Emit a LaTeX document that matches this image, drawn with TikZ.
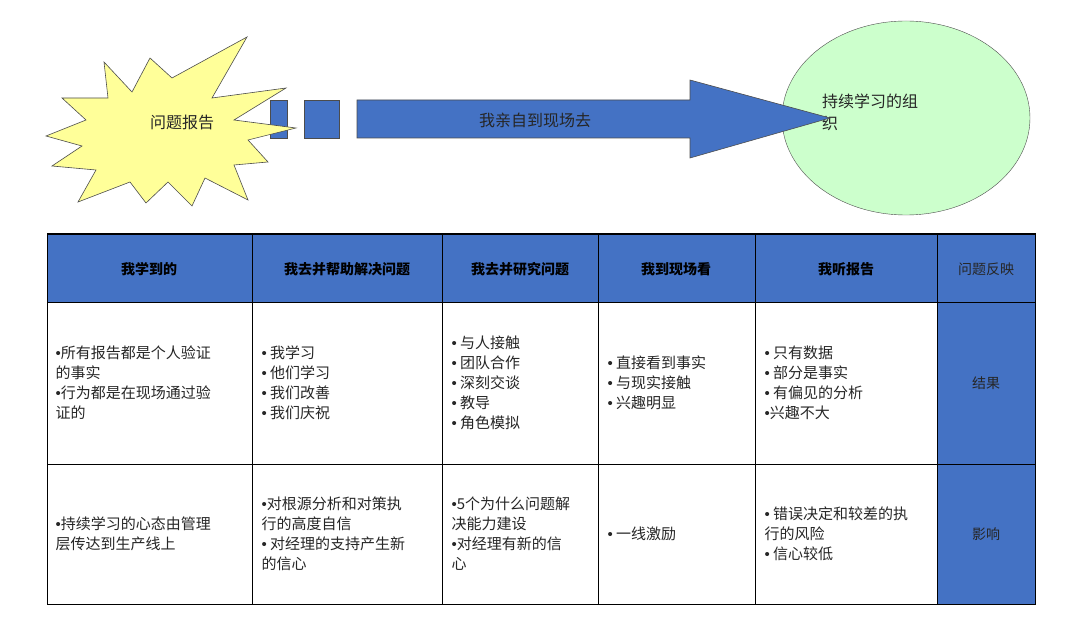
\documentclass[tikz,border=0pt]{standalone}
\usepackage{fontspec}
\usetikzlibrary{shapes.geometric}
\setmainfont{Noto Sans CJK SC}
\newfontfamily\dvs{Liberation Sans}
\newcommand\bul{{\dvs •}}
\begin{document}
\begin{tikzpicture}[x=1pt,y=-1pt,
  hdr/.style={draw=black,fill=blueA},
  cell/.style={draw=black,fill=white},
  txt/.style={font=\fontsize{15}{20}\selectfont,align=left,anchor=west,text=black!85},
  htxt/.style={font=\fontsize{14}{17}\selectfont\bfseries,text=black},
  blk/.style={draw=black!70,fill=blueA,line width=0.6pt}]
\definecolor{blueA}{HTML}{4472C4}
\definecolor{greenA}{HTML}{CCFFCC}
\definecolor{yelA}{HTML}{FFFF99}
\useasboundingbox (0,0) rectangle (1080,620);
% ellipse
\node[draw=black!70,fill=greenA,ellipse,minimum width=248pt,minimum height=194pt,inner sep=0] (org) at (906,118) {};
\node[font=\fontsize{16}{22}\selectfont,align=left,text=black!85] (orgt) at (870,112) {持续学习的组\\织};
% arrow
\draw[blk] (270,100) rectangle (287,138);
\draw[blk] (304,100) rectangle (339,138);
\draw[blk] (357,100) -- (690,100) -- (690,80) -- (830,118) -- (690,158) -- (690,138) -- (357,138) -- cycle;
\node[font=\fontsize{16}{18}\selectfont,text=black!85] (go) at (535,120) {我亲自到现场去};
% starburst
\draw[draw=black!70,fill=yelA,line width=0.6pt]
 (104,62) -- (132,92) -- (150,58) -- (172,78) -- (247,37) -- (212,98) -- (286,88) -- (234,120)
 -- (296,128) -- (248,140) -- (268,162) -- (234,165) -- (248,200) -- (205,178) -- (192,206)
 -- (168,182) -- (146,203) -- (130,182) -- (78,202) -- (96,170) -- (52,166) -- (82,146)
 -- (46,136) -- (86,120) -- (62,98) -- (108,98) -- cycle;
\node[font=\fontsize{16}{18}\selectfont,text=black!85] (rep) at (182,122) {问题报告};
% table
\foreach \a/\b in {47/252,252/442,442/598,598/755,755/937}{
  \draw[hdr] (\a,234) rectangle (\b,302);
  \draw[cell] (\a,302) rectangle (\b,464);
  \draw[cell] (\a,464) rectangle (\b,604);
}
\draw[hdr] (937,234) rectangle (1035,302);
\draw[hdr] (937,302) rectangle (1035,464);
\draw[hdr] (937,464) rectangle (1035,604);
\draw[black,line width=1pt] (47,234) rectangle (1035,604);
\node[htxt] (h1) at (149,269) {我学到的};
\node[htxt] (h2) at (347,269) {我去并帮助解决问题};
\node[htxt] (h3) at (520,269) {我去并研究问题};
\node[htxt] (h4) at (676,269) {我到现场看};
\node[htxt] (h5) at (846,269) {我听报告};
\node[font=\fontsize{14}{17}\selectfont,text=black!85] (h6) at (986,269) {问题反映};
\node[font=\fontsize{14}{17}\selectfont,text=black!85] (r1) at (986,383) {结果};
\node[font=\fontsize{14}{17}\selectfont,text=black!85] (r2) at (986,534) {影响};
\node[txt] (c11) at (52,383) {\bul{}所有报告都是个人验证\\的事实\\\bul{}行为都是在现场通过验\\证的};
\node[txt] (c12) at (258,383) {\bul\ 我学习\\\bul\ 他们学习\\\bul\ 我们改善\\\bul\ 我们庆祝};
\node[txt] (c13) at (448,383) {\bul\ 与人接触\\\bul\ 团队合作\\\bul\ 深刻交谈\\\bul\ 教导\\\bul\ 角色模拟};
\node[txt] (c14) at (604,383) {\bul\ 直接看到事实\\\bul\ 与现实接触\\\bul\ 兴趣明显};
\node[txt] (c15) at (761,383) {\bul\ 只有数据\\\bul\ 部分是事实\\\bul\ 有偏见的分析\\\bul{}兴趣不大};
\node[txt] (c21) at (52,534) {\bul{}持续学习的心态由管理\\层传达到生产线上};
\node[txt] (c22) at (258,534) {\bul{}对根源分析和对策执\\行的高度自信\\\bul\ 对经理的支持产生新\\的信心};
\node[txt] (c23) at (448,534) {\bul{}5个为什么问题解\\决能力建设\\\bul{}对经理有新的信\\心};
\node[txt] (c24) at (604,534) {\bul\ 一线激励};
\node[txt] (c25) at (761,534) {\bul\ 错误决定和较差的执\\行的风险\\\bul\ 信心较低};
\end{tikzpicture}
\end{document}
